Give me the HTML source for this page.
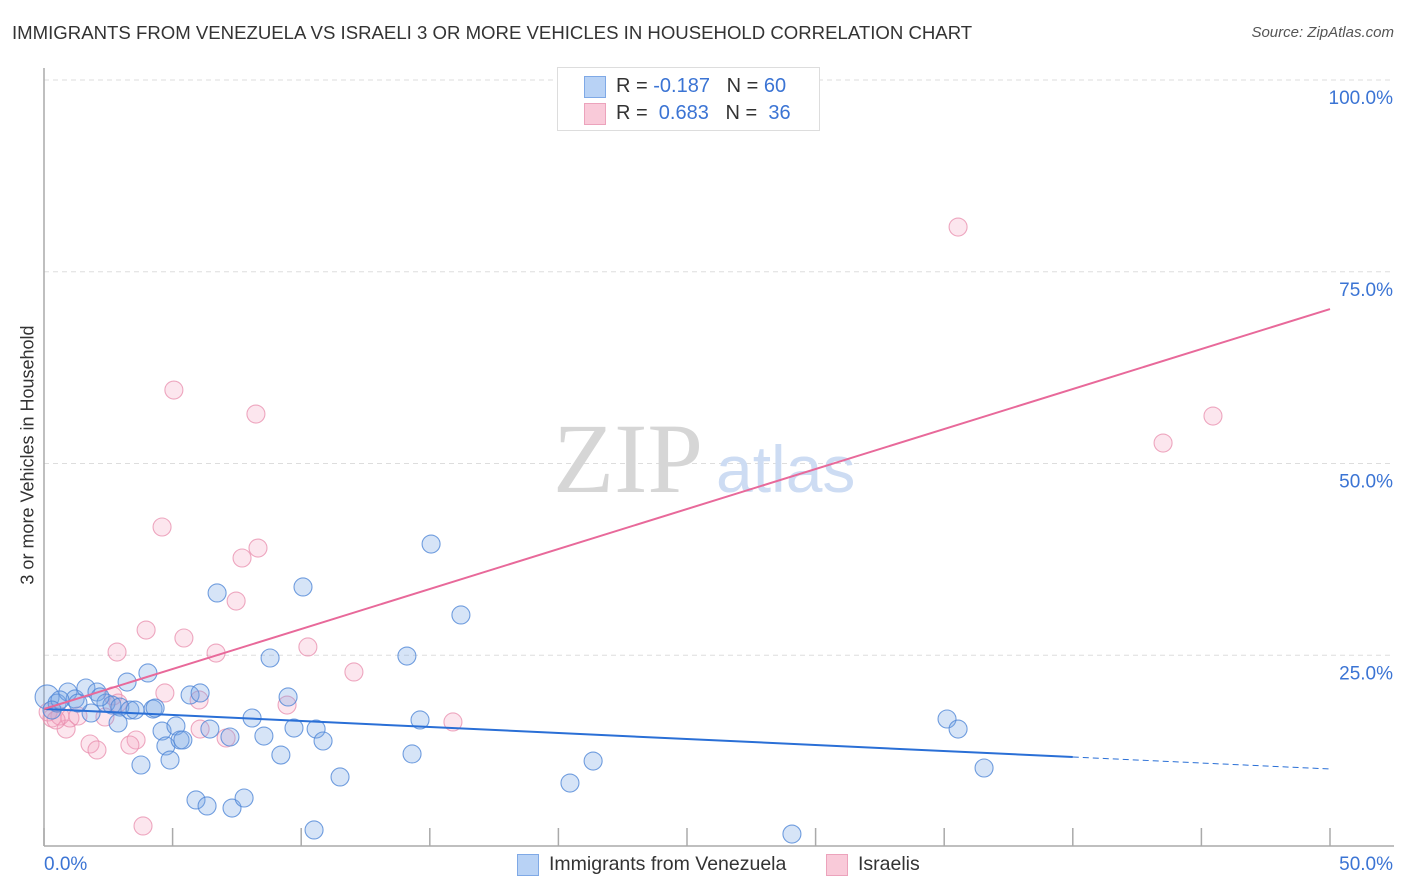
<!DOCTYPE html>
<html><head><meta charset="utf-8"><style>
body{margin:0;background:#fff;font-family:"Liberation Sans",sans-serif;}
#wrap{position:relative;width:1406px;height:892px;overflow:hidden}
.t{position:absolute;white-space:nowrap}
</style></head><body>
<div id="wrap">
<div class="t" style="left:12px;top:22px;font-size:18.6px;color:#333">IMMIGRANTS FROM VENEZUELA VS ISRAELI 3 OR MORE VEHICLES IN HOUSEHOLD CORRELATION CHART</div>
<div class="t" style="right:12px;top:24px;font-size:15px;color:#555;font-style:italic">Source: ZipAtlas.com</div>
<div class="t" style="left:28px;top:455px;font-size:18px;color:#333;transform:translate(-50%,-50%) rotate(-90deg)">3 or more Vehicles in Household</div>
<svg id="svg" width="1406" height="892" style="position:absolute;left:0;top:0"></svg>
<div style="position:absolute;left:557px;top:67px;width:261px;height:62px;border:1px solid #ddd;background:#fff;font-size:20px;color:#333">
 <div style="position:absolute;left:26px;top:8px;width:20px;height:20px;background:#b8d2f5;border:1px solid #7fa9e6"></div>
 <div class="t" style="left:58px;top:7px">R = <span style="color:#3b74d4">-0.187</span>&nbsp;&nbsp;&nbsp;N = <span style="color:#3b74d4">60</span></div>
 <div style="position:absolute;left:26px;top:35px;width:20px;height:20px;background:#f9cad9;border:1px solid #eca3bc"></div>
 <div class="t" style="left:58px;top:34px">R = &nbsp;<span style="color:#3b74d4">0.683</span>&nbsp;&nbsp;&nbsp;N = &nbsp;<span style="color:#3b74d4">36</span></div>
</div>
<div style="position:absolute;left:0;top:852px;width:1406px;height:26px;font-size:19.5px;color:#333">
 <div style="position:absolute;left:517px;top:2px;width:20px;height:20px;background:#b8d2f5;border:1px solid #7fa9e6"></div>
 <div class="t" style="left:549px;top:1px">Immigrants from Venezuela</div>
 <div style="position:absolute;left:826px;top:2px;width:20px;height:20px;background:#f9cad9;border:1px solid #eca3bc"></div>
 <div class="t" style="left:858px;top:1px">Israelis</div>
</div>
</div>
<script>
const blueX=[0.12,0.51,0.93,1.21,1.63,2.06,2.41,2.64,2.95,3.23,3.34,4.04,4.24,4.32,4.59,4.74,4.90,5.13,5.29,5.40,5.68,6.07,6.45,6.73,7.23,5.91,6.34,7.31,7.78,8.09,8.55,8.79,9.21,9.49,9.72,10.07,10.50,10.58,10.85,11.51,14.11,14.31,14.62,15.05,16.21,20.45,21.35,29.08,35.11,35.54,36.55,3.77,2.88,1.83,0.62,2.18,1.32,3.54,0.31];
const blueY=[19.56,18.77,20.21,19.30,20.73,20.21,18.77,18.51,18.25,21.51,17.86,22.69,17.99,18.12,15.12,13.17,11.34,15.78,13.95,13.95,19.82,20.08,15.38,33.12,14.34,6.13,5.35,5.08,6.39,16.82,14.47,24.64,11.99,19.56,15.51,33.90,2.22,15.38,13.82,9.13,24.90,12.13,16.56,39.50,30.25,8.34,11.21,1.69,16.69,15.38,10.30,10.69,16.17,17.47,19.17,19.56,18.77,17.86,17.86];
const pinkX=[35.54,43.51,45.45,5.05,8.24,4.59,8.32,7.70,7.47,3.97,5.44,2.84,6.69,10.26,12.05,4.70,2.68,9.45,15.90,6.07,7.08,3.58,3.34,1.79,2.06,0.86,0.31,0.62,1.01,2.37,1.32,3.85,2.88,6.03,0.16,0.47];
const pinkY=[80.83,52.67,56.19,59.58,56.45,41.72,38.98,37.68,32.07,28.29,27.25,25.42,25.29,26.08,22.82,20.08,19.69,18.51,16.30,15.38,14.21,13.95,13.30,13.43,12.65,15.38,16.82,17.08,16.82,16.95,17.08,2.74,18.77,19.17,17.60,16.56];
const blueTrend=[18.0,11.73,10.17]; // at x=0, 40, 50
const pinkTrend=[17.99,70.14]; // at x=0, 50
const yTicks=[25,50,75,100];
const yTickLabels=["25.0%","50.0%","75.0%","100.0%"];
const xTicks=[0,5,10,15,20,25,30,35,40,45,50];

const X=v=>44+v*25.72, Y=v=>847-v*7.67;
const svg=document.getElementById('svg'), NS='http://www.w3.org/2000/svg';
function mk(tag,attrs,name){const e=document.createElementNS(NS,tag);for(const k in attrs)e.setAttribute(k,attrs[k]);


svg.appendChild(e);return e;}
yTicks.forEach((v,i)=>{
 mk('line',{x1:44,x2:1394,y1:Y(v),y2:Y(v),stroke:'#ddd','stroke-dasharray':'5,4'},'gridline');
 const t=mk('text',{x:1393,y:Y(v)+24,'text-anchor':'end','font-size':19,fill:'#3b74d4','font-family':'Liberation Sans'},'y-tick-label');t.textContent=yTickLabels[i];
});
mk('line',{x1:44,x2:44,y1:68,y2:846,stroke:'#aaa','stroke-width':1.5},'y-axis-line');
mk('line',{x1:44,x2:1394,y1:846,y2:846,stroke:'#aaa','stroke-width':1.5},'x-axis-line');
xTicks.forEach(v=>{mk('line',{x1:X(v),x2:X(v),y1:828,y2:846,stroke:'#aaa','stroke-width':1.5},'x-tick');});
let t=mk('text',{x:44,y:870,'font-size':19,fill:'#3b74d4','font-family':'Liberation Sans'},'x-tick-label');t.textContent='0.0%';
t=mk('text',{x:1393,y:870,'text-anchor':'end','font-size':19,fill:'#3b74d4','font-family':'Liberation Sans'},'x-tick-label');t.textContent='50.0%';
t=mk('text',{x:553,y:492,'font-size':100,fill:'#d6d6d6','font-family':'Liberation Serif'},'watermark-zip');t.textContent='ZIP';
t=mk('text',{x:716,y:492,'font-size':66,fill:'#cddcf3','font-family':'Liberation Sans'},'watermark-atlas');t.textContent='atlas';
pinkX.forEach((x,i)=>mk('circle',{cx:X(x),cy:Y(pinkY[i]),r:9,fill:'rgba(245,165,195,0.28)',stroke:'rgba(232,140,172,0.75)','stroke-width':1.1},'israeli-point'));
blueX.forEach((x,i)=>mk('circle',{cx:X(x),cy:Y(blueY[i]),r:(i===0?12:9),fill:'rgba(120,165,230,0.3)',stroke:'rgba(80,135,215,0.8)','stroke-width':1.1},'venezuela-point'));
mk('line',{x1:X(0),y1:Y(blueTrend[0]),x2:X(40),y2:Y(blueTrend[1]),stroke:'#2a6fd6','stroke-width':2},'venezuela-trendline');
mk('line',{x1:X(40),y1:Y(blueTrend[1]),x2:X(50),y2:Y(blueTrend[2]),stroke:'#2a6fd6','stroke-width':1,'stroke-dasharray':'6,4'},'venezuela-trendline-extension');
mk('line',{x1:X(0),y1:Y(pinkTrend[0]),x2:X(50),y2:Y(pinkTrend[1]),stroke:'#e8699a','stroke-width':2},'israeli-trendline');
</script>
</body></html>
